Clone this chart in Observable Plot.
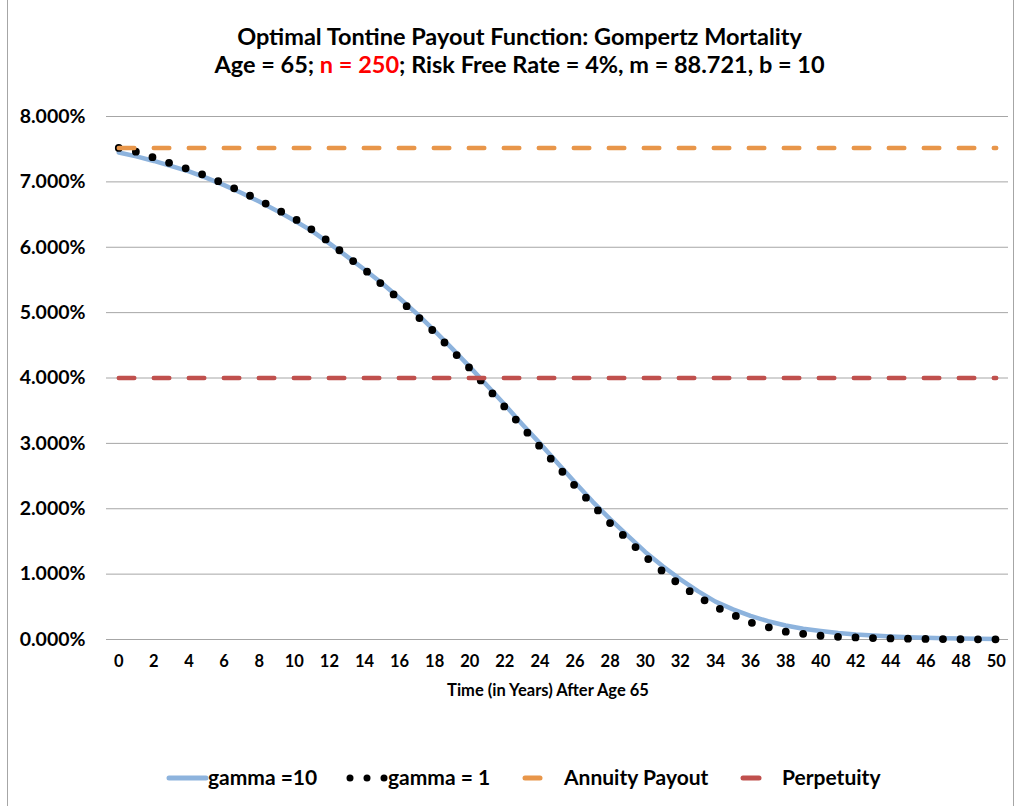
<!DOCTYPE html>
<html>
<head>
<meta charset="utf-8">
<script src="https://cdn.jsdelivr.net/npm/d3@7"></script>
<script src="https://cdn.jsdelivr.net/npm/@observablehq/plot@0.6"></script>
<style>
  body { margin: 0; background: #fff; font-family: Lato, "Open Sans", sans-serif; }
  #wrap { position: relative; width: 1021px; height: 806px; overflow: hidden; background: #fff; }
  #frame { position: absolute; left: 7px; top: -3px; width: 1007px; height: 820px; border: 1px solid #a6a6a6; box-sizing: border-box; }
  #chart { position: absolute; left: 0; top: 0; }
  #title { position: absolute; left: 9px; top: 22px; width: 1021px; text-align: center; font-weight: 700; font-size: 23.5px; line-height: 28px; color: #000; }
  #title .red { color: #ff0000; }
  #xlabel { position: absolute; left: 48px; top: 680px; width: 1000px; text-align: center; font-weight: 700; font-size: 16.5px; line-height: 20px; color: #000; }
  #legend { position: absolute; left: 0; top: 763px; }
</style>
</head>
<body>
<div id="wrap">
  <div id="frame"></div>
  <div id="chart"></div>
  <div id="title">Optimal Tontine Payout Function: Gompertz Mortality<br>Age = 65; <span class="red">n = 250</span>; Risk Free Rate = 4%, m = 88.721, b = 10</div>
  <div id="xlabel">Time (in Years) After Age 65</div>
  <svg id="legend" width="1021" height="32"></svg>
</div>
<script>
// ---- data (values in percent) ----
const years = [0,1,2,3,4,5,6,7,8,9,10,11,12,13,14,15,16,17,18,19,20,21,22,23,24,25,26,27,28,29,30,31,32,33,34,35,36,37,38,39,40,41,42,43,44,45,46,47,48,49,50];
const gamma10 = [7.45,7.39,7.32,7.24,7.16,7.06,6.95,6.83,6.70,6.56,6.41,6.25,6.06,5.86,5.66,5.45,5.22,4.98,4.72,4.45,4.17,3.88,3.59,3.29,3.00,2.70,2.40,2.11,1.84,1.59,1.34,1.12,0.92,0.74,0.58,0.46,0.36,0.28,0.215,0.165,0.13,0.10,0.077,0.06,0.046,0.035,0.027,0.02,0.015,0.011,0.008];
const gamma1 = [7.52,7.46,7.37,7.28,7.19,7.09,6.97,6.85,6.72,6.58,6.44,6.27,6.08,5.86,5.66,5.43,5.20,4.95,4.70,4.42,4.15,3.85,3.555,3.25,2.95,2.65,2.35,2.06,1.78,1.53,1.27,1.04,0.83,0.66,0.50,0.38,0.26,0.19,0.12,0.087,0.057,0.041,0.031,0.022,0.016,0.012,0.009,0.006,0.004,0.003,0.002];
const annuityPayout = 7.52;
const perpetuity = 4.0;
const xTicks = [0,2,4,6,8,10,12,14,16,18,20,22,24,26,28,30,32,34,36,38,40,42,44,46,48,50];
const yTicks = [0,1,2,3,4,5,6,7,8];
const seriesNames = ["gamma =10", "gamma = 1", "Annuity Payout", "Perpetuity"];
const colors = {g10: "#8db3dd", g1: "#000000", annuity: "#e8964a", perp: "#c0504d"};

const table = years.map((t, i) => ({t, g10: gamma10[i], g1: gamma1[i], annuity: annuityPayout, perp: perpetuity}));

const chart = Plot.plot({
  width: 1021,
  height: 806,
  marginLeft: 106,
  marginRight: 13,
  marginTop: 116,
  marginBottom: 167,
  style: {fontFamily: "Lato, sans-serif", background: "transparent"},
  x: {domain: [-0.7, 50.7]},
  y: {domain: [0, 8]},
  marks: [
    Plot.gridY(yTicks, {stroke: "#a6a6a6", strokeOpacity: 1, strokeWidth: 1}),
    Plot.axisY(yTicks, {tickSize: 0, tickPadding: 21, tickFormat: d => d.toFixed(3) + "%", fontSize: 19.5, fontWeight: "bold", label: null}),
    Plot.axisX(xTicks, {tickSize: 0, tickPadding: 16, fontSize: 16.5, fontWeight: "bold", label: null}),
    Plot.line(table, {x: "t", y: "g10", stroke: colors.g10, strokeWidth: 4.5, strokeLinecap: "round", strokeLinejoin: "round"}),
    Plot.line(table, {x: "t", y: "g1", stroke: colors.g1, strokeWidth: 7.8, strokeDasharray: "0,17.5", strokeLinecap: "round"}),
    Plot.line(table, {x: "t", y: "annuity", stroke: colors.annuity, strokeWidth: 4.5, strokeDasharray: "15.5,19.5", strokeLinecap: "round"}),
    Plot.line(table, {x: "t", y: "perp", stroke: colors.perp, strokeWidth: 4.5, strokeDasharray: "15.5,19.5", strokeLinecap: "round"})
  ]
});
document.getElementById("chart").appendChild(chart);

// ---- legend ----
const lg = d3.select("#legend");
const cy = 15;
const items = [
  {name: seriesNames[0], type: "line", color: colors.g10, x1: 169, x2: 206, tx: 208},
  {name: seriesNames[1], type: "dots", color: colors.g1, dots: [350, 367, 384], tx: 388},
  {name: seriesNames[2], type: "line", color: colors.annuity, x1: 525, x2: 540, tx: 564},
  {name: seriesNames[3], type: "line", color: colors.perp, x1: 743, x2: 759, tx: 782}
];
items.forEach(it => {
  if (it.type === "line") {
    lg.append("line").attr("x1", it.x1).attr("x2", it.x2).attr("y1", cy).attr("y2", cy)
      .attr("stroke", it.color).attr("stroke-width", 5).attr("stroke-linecap", "round");
  } else {
    it.dots.forEach(dx => lg.append("circle").attr("cx", dx).attr("cy", cy).attr("r", 3.5).attr("fill", it.color));
  }
  lg.append("text").attr("x", it.tx).attr("y", cy).attr("dy", "0.35em")
    .attr("font-family", "Lato, sans-serif").attr("font-weight", "bold").attr("font-size", 21)
    .attr("fill", "#000").text(it.name);
});
</script>
</body>
</html>
